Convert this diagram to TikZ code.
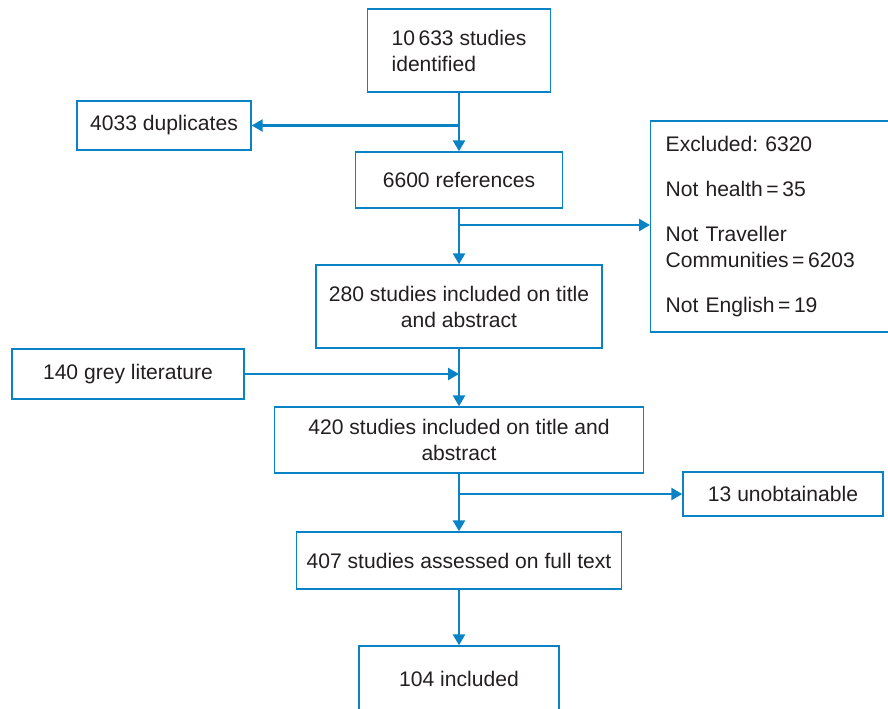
\documentclass[tikz,border=0pt]{standalone}
\usepackage{fontspec}
\setmainfont{Liberation Sans}
\usetikzlibrary{arrows.meta}
\definecolor{flowblue}{HTML}{0A83C6}
\definecolor{inkgrey}{HTML}{231F20}
\frenchspacing

\begin{document}
\begin{tikzpicture}[x=0.02cm,y=0.02cm,
		box/.style={draw=flowblue,line width=0.8pt,text=inkgrey,inner sep=0pt,align=center,
			font=\fontsize{12pt}{14.8pt}\selectfont},
		flow/.style={draw=flowblue,line width=1.4pt,-{Triangle[length=0.22cm,width=0.24cm]}}]
			\useasboundingbox (0,0) rectangle (888,-708);
			
			\node(found) at (459,-50.5)[box,align=left,minimum width=3.66cm,minimum height=1.66cm]{10\,633 studies\\identified};
			\node(dups) at (164,-125.5)[box,minimum width=3.48cm,minimum height=0.98cm]{4033 duplicates};
			\node(refs) at (459,-180)[box,minimum width=4.14cm,minimum height=1.12cm]{6600 references};
			\node(excl) at (650,-226.5)[box,anchor=west,align=left,inner xsep=0.3cm,text width=4.4cm,minimum height=4.22cm]{Excluded: 6320\\[0.38cm]
				Not health\,=\,35\\[0.38cm]
				Not Traveller\\Communities\,=\,6203\\[0.38cm]
				Not English\,=\,19};
			\node(title) at (459,-306.5)[box,minimum width=5.72cm,minimum height=1.66cm]{280 studies included on title\\and abstract};
			\node(grey) at (128,-374)[box,minimum width=4.64cm,minimum height=1cm]{140 grey literature};
			\node(merged) at (459,-440)[box,minimum width=7.38cm,minimum height=1.32cm]{420 studies included on title and\\abstract};
			\node(unob) at (783,-494)[box,minimum width=4cm,minimum height=0.88cm]{13 unobtainable};
			\node(full) at (459,-560.5)[box,minimum width=6.5cm,minimum height=1.14cm]{407 studies assessed on full text};
			\node(kept) at (459,-679)[box,minimum width=4cm,minimum height=1.32cm]{104 included};
			
			\draw[flow] (found) -- (refs);
			\draw[flow] (found |- dups) -- (dups);
			\draw[flow] (refs) -- (title);
			\draw[flow] (refs |- 0,-225) -- (excl.west |- 0,-225);
			\draw[flow] (title) -- (merged);
			\draw[flow] (grey) -- (grey -| title);
			\draw[flow] (merged) -- (full);
			\draw[flow] (merged |- unob) -- (unob);
			\draw[flow] (full) -- (kept);
		\end{tikzpicture}
\end{document}
